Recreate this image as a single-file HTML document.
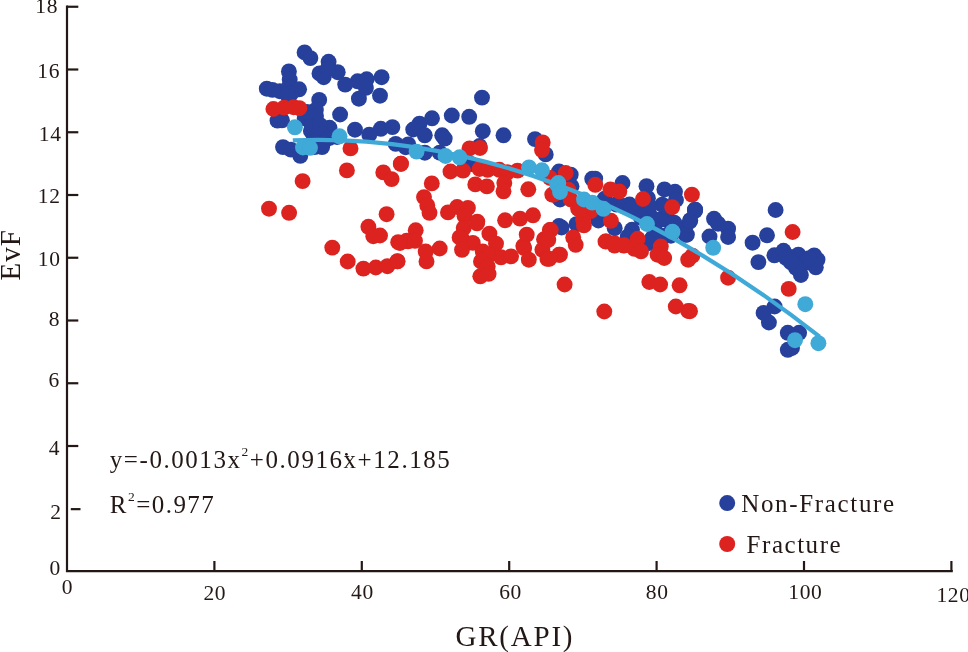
<!DOCTYPE html>
<html><head><meta charset="utf-8"><title>EvF vs GR(API)</title>
<style>
html,body{margin:0;padding:0;background:#fff;}
body{width:968px;height:652px;overflow:hidden;}
svg{display:block;}
text{font-family:"Liberation Serif","Times New Roman",serif;fill:#231815;}
</style></head><body>
<svg width="968" height="652" viewBox="0 0 968 652">
<rect width="968" height="652" fill="#fff"/>
<g stroke="#231815" stroke-width="2.2" fill="none" stroke-linecap="butt">
<path d="M67,5.6 V571.2 H952.8"/>
<path d="M67,6.75 H78.3"/>
<path d="M67,69.5 H78.3"/>
<path d="M67,132.25 H78.3"/>
<path d="M67,195.0 H78.3"/>
<path d="M67,257.75 H78.3"/>
<path d="M67,320.5 H78.3"/>
<path d="M67,383.25 H78.3"/>
<path d="M67,446.0 H78.3"/>
<path d="M70.8,509.15 H80.5"/>
<path d="M214.4,561 V571"/>
<path d="M361.8,561 V571"/>
<path d="M509.20000000000005,561 V571"/>
<path d="M656.6,561 V571"/>
<path d="M804.0,561 V571"/>
<path d="M951.4000000000001,561 V571"/>
</g>
<text x="58" y="13" font-size="21.5" text-anchor="end" letter-spacing="0.6">18</text>
<text x="60" y="77.5" font-size="21.5" text-anchor="end" letter-spacing="0.6">16</text>
<text x="61.5" y="140.5" font-size="21.5" text-anchor="end" letter-spacing="0.6">14</text>
<text x="60.5" y="203" font-size="21.5" text-anchor="end" letter-spacing="0.6">12</text>
<text x="60.5" y="265.5" font-size="21.5" text-anchor="end" letter-spacing="0.6">10</text>
<text x="60" y="326.2" font-size="21.5" text-anchor="end" letter-spacing="0.6">8</text>
<text x="59.8" y="387" font-size="21.5" text-anchor="end" letter-spacing="0.6">6</text>
<text x="60" y="455" font-size="21.5" text-anchor="end" letter-spacing="0.6">4</text>
<text x="61.6" y="518.5" font-size="21.5" text-anchor="end" letter-spacing="0.6">2</text>
<text x="60.8" y="575.2" font-size="21.5" text-anchor="end" letter-spacing="0.6">0</text>
<text x="67.5" y="594" font-size="21.5" text-anchor="middle" letter-spacing="0.6">0</text>
<text x="214.8" y="599.7" font-size="21.5" text-anchor="middle" letter-spacing="0.6">20</text>
<text x="362.4" y="599" font-size="21.5" text-anchor="middle" letter-spacing="0.6">40</text>
<text x="510.5" y="599" font-size="21.5" text-anchor="middle" letter-spacing="0.6">60</text>
<text x="657.2" y="599" font-size="21.5" text-anchor="middle" letter-spacing="0.6">80</text>
<text x="805.4" y="599" font-size="21.5" text-anchor="middle" letter-spacing="0.6">100</text>
<text x="953.5" y="601.5" font-size="21.5" text-anchor="middle" letter-spacing="0.6">120</text>
<text x="455.5" y="645.5" font-size="29" textLength="117" lengthAdjust="spacing">GR(API)</text>
<text transform="translate(20,280.5) rotate(-90)" font-size="29" textLength="50.5" lengthAdjust="spacing">EvF</text>
<g fill="#26409b"><circle cx="304.6" cy="52.4" r="7.95"/>
<circle cx="310.4" cy="58.1" r="7.95"/>
<circle cx="328.6" cy="61.8" r="7.95"/>
<circle cx="288.9" cy="71.4" r="7.95"/>
<circle cx="319.5" cy="73.4" r="7.95"/>
<circle cx="323.7" cy="77.2" r="7.95"/>
<circle cx="337.7" cy="72.2" r="7.95"/>
<circle cx="345.2" cy="84.6" r="7.95"/>
<circle cx="357.6" cy="81.3" r="7.95"/>
<circle cx="366.7" cy="79.3" r="7.95"/>
<circle cx="381.6" cy="77.2" r="7.95"/>
<circle cx="365.9" cy="87.9" r="7.95"/>
<circle cx="358.9" cy="98.7" r="7.95"/>
<circle cx="380" cy="95.7" r="7.95"/>
<circle cx="289.7" cy="79.7" r="7.95"/>
<circle cx="266.8" cy="88.7" r="7.95"/>
<circle cx="272.4" cy="89.9" r="7.95"/>
<circle cx="279.8" cy="91.2" r="7.95"/>
<circle cx="288.5" cy="87.5" r="7.95"/>
<circle cx="299.1" cy="89.3" r="7.95"/>
<circle cx="291" cy="93.7" r="7.95"/>
<circle cx="319.2" cy="99.9" r="7.95"/>
<circle cx="315.9" cy="109.8" r="7.95"/>
<circle cx="282" cy="120.4" r="7.95"/>
<circle cx="277.5" cy="120.6" r="7.95"/>
<circle cx="340.1" cy="114.5" r="7.95"/>
<circle cx="329.5" cy="127.8" r="7.95"/>
<circle cx="310.9" cy="122.2" r="7.95"/>
<circle cx="310.9" cy="131" r="7.95"/>
<circle cx="317.1" cy="134.7" r="7.95"/>
<circle cx="304.7" cy="118.5" r="7.95"/>
<circle cx="322.1" cy="147.1" r="7.95"/>
<circle cx="314.6" cy="147.1" r="7.95"/>
<circle cx="283" cy="147.1" r="7.95"/>
<circle cx="291" cy="149.6" r="7.95"/>
<circle cx="300.3" cy="155.8" r="7.95"/>
<circle cx="355" cy="129.7" r="7.95"/>
<circle cx="369.3" cy="134.7" r="7.95"/>
<circle cx="337" cy="137" r="7.95"/>
<circle cx="380.8" cy="128.8" r="7.95"/>
<circle cx="392.4" cy="127.1" r="7.95"/>
<circle cx="395.7" cy="143.9" r="7.95"/>
<circle cx="405.6" cy="147.2" r="7.95"/>
<circle cx="319.5" cy="141" r="7.95"/>
<circle cx="482" cy="97.6" r="7.95"/>
<circle cx="432" cy="118.3" r="7.95"/>
<circle cx="451.8" cy="115.5" r="7.95"/>
<circle cx="469.2" cy="116.8" r="7.95"/>
<circle cx="419.5" cy="123.7" r="7.95"/>
<circle cx="413.2" cy="129.5" r="7.95"/>
<circle cx="424.8" cy="135.3" r="7.95"/>
<circle cx="442.2" cy="135.3" r="7.95"/>
<circle cx="444.7" cy="138.6" r="7.95"/>
<circle cx="482.8" cy="131.2" r="7.95"/>
<circle cx="503.5" cy="135.3" r="7.95"/>
<circle cx="535" cy="139.1" r="7.95"/>
<circle cx="545.7" cy="154.4" r="7.95"/>
<circle cx="408.3" cy="144.4" r="7.95"/>
<circle cx="424.8" cy="152.7" r="7.95"/>
<circle cx="479.5" cy="146" r="7.95"/>
<circle cx="439.7" cy="152.7" r="7.95"/>
<circle cx="471" cy="164" r="7.95"/>
<circle cx="559" cy="226" r="7.95"/>
<circle cx="559" cy="171.5" r="7.95"/>
<circle cx="570.7" cy="174.7" r="7.95"/>
<circle cx="592.2" cy="178.8" r="7.95"/>
<circle cx="595.2" cy="178.6" r="7.95"/>
<circle cx="622.5" cy="183" r="7.95"/>
<circle cx="646.5" cy="186.2" r="7.95"/>
<circle cx="664.4" cy="189.4" r="7.95"/>
<circle cx="675" cy="191.8" r="7.95"/>
<circle cx="695.1" cy="209.6" r="7.95"/>
<circle cx="690.2" cy="220.2" r="7.95"/>
<circle cx="685" cy="228" r="7.95"/>
<circle cx="686.9" cy="234.6" r="7.95"/>
<circle cx="647.9" cy="198.2" r="7.95"/>
<circle cx="629.5" cy="204.5" r="7.95"/>
<circle cx="642.7" cy="209.5" r="7.95"/>
<circle cx="662.3" cy="204.6" r="7.95"/>
<circle cx="666.5" cy="215" r="7.95"/>
<circle cx="668.3" cy="220.9" r="7.95"/>
<circle cx="656" cy="222.7" r="7.95"/>
<circle cx="659.6" cy="219.7" r="7.95"/>
<circle cx="616.2" cy="204.5" r="7.95"/>
<circle cx="604.7" cy="198.6" r="7.95"/>
<circle cx="632" cy="229.8" r="7.95"/>
<circle cx="614.7" cy="228.2" r="7.95"/>
<circle cx="598.4" cy="220.5" r="7.95"/>
<circle cx="576.5" cy="224.2" r="7.95"/>
<circle cx="561.6" cy="227.5" r="7.95"/>
<circle cx="571.5" cy="186.3" r="7.95"/>
<circle cx="560" cy="199.5" r="7.95"/>
<circle cx="656.5" cy="233" r="7.95"/>
<circle cx="652.1" cy="238.3" r="7.95"/>
<circle cx="664.5" cy="235.8" r="7.95"/>
<circle cx="623.5" cy="206" r="7.95"/>
<circle cx="627.8" cy="236.5" r="7.95"/>
<circle cx="652.6" cy="238" r="7.95"/>
<circle cx="649.3" cy="243" r="7.95"/>
<circle cx="670.9" cy="235.7" r="7.95"/>
<circle cx="685.8" cy="234.8" r="7.95"/>
<circle cx="695" cy="210.8" r="7.95"/>
<circle cx="775.6" cy="210" r="7.95"/>
<circle cx="695" cy="209.7" r="7.95"/>
<circle cx="690" cy="221.3" r="7.95"/>
<circle cx="714" cy="218.8" r="7.95"/>
<circle cx="718.1" cy="223.7" r="7.95"/>
<circle cx="728.1" cy="228.7" r="7.95"/>
<circle cx="728.1" cy="237" r="7.95"/>
<circle cx="709.5" cy="236.5" r="7.95"/>
<circle cx="752.6" cy="242.7" r="7.95"/>
<circle cx="767" cy="235.3" r="7.95"/>
<circle cx="758.4" cy="262.1" r="7.95"/>
<circle cx="774.4" cy="255.3" r="7.95"/>
<circle cx="783.5" cy="250.8" r="7.95"/>
<circle cx="798.4" cy="254.6" r="7.95"/>
<circle cx="814.2" cy="255.4" r="7.95"/>
<circle cx="817.5" cy="259.6" r="7.95"/>
<circle cx="794.3" cy="262.9" r="7.95"/>
<circle cx="805.9" cy="262.9" r="7.95"/>
<circle cx="815.8" cy="267.3" r="7.95"/>
<circle cx="800.9" cy="275" r="7.95"/>
<circle cx="796" cy="268" r="7.95"/>
<circle cx="774.6" cy="306.5" r="7.95"/>
<circle cx="763.6" cy="312.9" r="7.95"/>
<circle cx="768.9" cy="322.5" r="7.95"/>
<circle cx="787.8" cy="332.8" r="7.95"/>
<circle cx="799.1" cy="332.8" r="7.95"/>
<circle cx="787.8" cy="349.8" r="7.95"/>
<circle cx="792" cy="348" r="7.95"/>
<circle cx="327.5" cy="69" r="7.95"/>
<circle cx="316" cy="116" r="7.95"/>
<circle cx="312" cy="126" r="7.95"/>
<circle cx="320" cy="125" r="7.95"/>
<circle cx="321" cy="133" r="7.95"/>
<circle cx="313" cy="141" r="7.95"/>
<circle cx="323" cy="143" r="7.95"/>
<circle cx="329.5" cy="138" r="7.95"/>
<circle cx="307" cy="112" r="7.95"/>
<circle cx="288" cy="96" r="7.95"/>
<circle cx="639.7" cy="211" r="7.95"/>
<circle cx="652" cy="217.5" r="7.95"/>
<circle cx="649.6" cy="206.5" r="7.95"/>
<circle cx="665" cy="207" r="7.95"/>
<circle cx="631" cy="208.5" r="7.95"/>
<circle cx="641" cy="217.7" r="7.95"/>
<circle cx="674.2" cy="222.7" r="7.95"/>
<circle cx="676" cy="200" r="7.95"/>
<circle cx="789.3" cy="256.6" r="7.95"/>
<circle cx="809.2" cy="258.2" r="7.95"/>
<circle cx="786" cy="258" r="7.95"/>
<circle cx="791" cy="262.5" r="7.95"/></g>
<g fill="#dc231f"><circle cx="273.4" cy="109" r="7.95"/>
<circle cx="284.1" cy="107.6" r="7.95"/>
<circle cx="293.7" cy="107.2" r="7.95"/>
<circle cx="299.4" cy="108.2" r="7.95"/>
<circle cx="350.5" cy="148.4" r="7.95"/>
<circle cx="346.9" cy="170.4" r="7.95"/>
<circle cx="302.6" cy="181.1" r="7.95"/>
<circle cx="383.3" cy="172.4" r="7.95"/>
<circle cx="391.6" cy="179.1" r="7.95"/>
<circle cx="401" cy="163.7" r="7.95"/>
<circle cx="269" cy="208.7" r="7.95"/>
<circle cx="289.1" cy="212.8" r="7.95"/>
<circle cx="386.6" cy="214.2" r="7.95"/>
<circle cx="368.4" cy="226.8" r="7.95"/>
<circle cx="373.3" cy="236.2" r="7.95"/>
<circle cx="380" cy="235.5" r="7.95"/>
<circle cx="332.3" cy="247.6" r="7.95"/>
<circle cx="347.7" cy="261.5" r="7.95"/>
<circle cx="363.4" cy="268.6" r="7.95"/>
<circle cx="375.8" cy="267.5" r="7.95"/>
<circle cx="387.4" cy="266.2" r="7.95"/>
<circle cx="397.4" cy="261.2" r="7.95"/>
<circle cx="398.2" cy="242.2" r="7.95"/>
<circle cx="408.1" cy="241.3" r="7.95"/>
<circle cx="469.5" cy="148.4" r="7.95"/>
<circle cx="480" cy="148" r="7.95"/>
<circle cx="542.7" cy="142.4" r="7.95"/>
<circle cx="542" cy="150.1" r="7.95"/>
<circle cx="400.8" cy="163.8" r="7.95"/>
<circle cx="450.5" cy="171.5" r="7.95"/>
<circle cx="463" cy="170.6" r="7.95"/>
<circle cx="479.5" cy="169" r="7.95"/>
<circle cx="487.7" cy="169.8" r="7.95"/>
<circle cx="499.3" cy="169.8" r="7.95"/>
<circle cx="507.6" cy="172.3" r="7.95"/>
<circle cx="517.5" cy="170.6" r="7.95"/>
<circle cx="431.8" cy="183.4" r="7.95"/>
<circle cx="475.3" cy="184.4" r="7.95"/>
<circle cx="486.9" cy="186.4" r="7.95"/>
<circle cx="504.3" cy="183" r="7.95"/>
<circle cx="503.5" cy="191.3" r="7.95"/>
<circle cx="528.3" cy="189.3" r="7.95"/>
<circle cx="552.3" cy="194.6" r="7.95"/>
<circle cx="424" cy="197.1" r="7.95"/>
<circle cx="427.3" cy="205.4" r="7.95"/>
<circle cx="429.5" cy="212.8" r="7.95"/>
<circle cx="448" cy="212.4" r="7.95"/>
<circle cx="457.1" cy="207" r="7.95"/>
<circle cx="467.9" cy="207.9" r="7.95"/>
<circle cx="464.6" cy="216.2" r="7.95"/>
<circle cx="477.3" cy="221.6" r="7.95"/>
<circle cx="505.1" cy="220.3" r="7.95"/>
<circle cx="520" cy="218.6" r="7.95"/>
<circle cx="533" cy="215.3" r="7.95"/>
<circle cx="415.7" cy="230.3" r="7.95"/>
<circle cx="406.6" cy="240.8" r="7.95"/>
<circle cx="415" cy="240.8" r="7.95"/>
<circle cx="463.7" cy="228" r="7.95"/>
<circle cx="461.3" cy="237.7" r="7.95"/>
<circle cx="489.4" cy="233.7" r="7.95"/>
<circle cx="472.8" cy="242.9" r="7.95"/>
<circle cx="496" cy="243.7" r="7.95"/>
<circle cx="526.7" cy="234.6" r="7.95"/>
<circle cx="549.8" cy="230" r="7.95"/>
<circle cx="544" cy="239.3" r="7.95"/>
<circle cx="523.3" cy="246" r="7.95"/>
<circle cx="439.7" cy="248.5" r="7.95"/>
<circle cx="400" cy="243" r="7.95"/>
<circle cx="425.7" cy="251.5" r="7.95"/>
<circle cx="426.5" cy="261.4" r="7.95"/>
<circle cx="397.5" cy="261.4" r="7.95"/>
<circle cx="459.6" cy="237.4" r="7.95"/>
<circle cx="462" cy="249.8" r="7.95"/>
<circle cx="477" cy="223.3" r="7.95"/>
<circle cx="482.8" cy="251.5" r="7.95"/>
<circle cx="489.4" cy="254.8" r="7.95"/>
<circle cx="481" cy="261.4" r="7.95"/>
<circle cx="487.7" cy="266.4" r="7.95"/>
<circle cx="480.3" cy="276.3" r="7.95"/>
<circle cx="488.6" cy="273.8" r="7.95"/>
<circle cx="501" cy="257.3" r="7.95"/>
<circle cx="511" cy="256.4" r="7.95"/>
<circle cx="524.2" cy="248.1" r="7.95"/>
<circle cx="528.8" cy="259.7" r="7.95"/>
<circle cx="546.5" cy="240.7" r="7.95"/>
<circle cx="542.4" cy="249.8" r="7.95"/>
<circle cx="547.4" cy="258.9" r="7.95"/>
<circle cx="559" cy="254.8" r="7.95"/>
<circle cx="565.7" cy="173" r="7.95"/>
<circle cx="550" cy="178" r="7.95"/>
<circle cx="595.3" cy="184.8" r="7.95"/>
<circle cx="610.4" cy="189.4" r="7.95"/>
<circle cx="619.3" cy="191.5" r="7.95"/>
<circle cx="643" cy="199" r="7.95"/>
<circle cx="672.2" cy="207.1" r="7.95"/>
<circle cx="691.9" cy="194.6" r="7.95"/>
<circle cx="568.2" cy="189.6" r="7.95"/>
<circle cx="553.3" cy="194.6" r="7.95"/>
<circle cx="570.7" cy="199.5" r="7.95"/>
<circle cx="578.1" cy="208.6" r="7.95"/>
<circle cx="590.6" cy="211.1" r="7.95"/>
<circle cx="583.1" cy="219.4" r="7.95"/>
<circle cx="583.9" cy="225.4" r="7.95"/>
<circle cx="610.9" cy="220.8" r="7.95"/>
<circle cx="550.8" cy="230" r="7.95"/>
<circle cx="573.2" cy="237.4" r="7.95"/>
<circle cx="606.2" cy="241.4" r="7.95"/>
<circle cx="614.7" cy="243.4" r="7.95"/>
<circle cx="624.3" cy="245.3" r="7.95"/>
<circle cx="637.7" cy="238.8" r="7.95"/>
<circle cx="660.8" cy="246.5" r="7.95"/>
<circle cx="548.3" cy="239.8" r="7.95"/>
<circle cx="575.7" cy="244.8" r="7.95"/>
<circle cx="560" cy="254.7" r="7.95"/>
<circle cx="549.2" cy="258.8" r="7.95"/>
<circle cx="605.5" cy="241.5" r="7.95"/>
<circle cx="614.6" cy="245.6" r="7.95"/>
<circle cx="623.7" cy="245.6" r="7.95"/>
<circle cx="634.4" cy="248.9" r="7.95"/>
<circle cx="641" cy="251.4" r="7.95"/>
<circle cx="657.6" cy="254.7" r="7.95"/>
<circle cx="664.2" cy="258" r="7.95"/>
<circle cx="692.4" cy="255.6" r="7.95"/>
<circle cx="688.2" cy="259.7" r="7.95"/>
<circle cx="564.6" cy="284.5" r="7.95"/>
<circle cx="649.3" cy="282" r="7.95"/>
<circle cx="660.1" cy="284.5" r="7.95"/>
<circle cx="679.6" cy="285.3" r="7.95"/>
<circle cx="604.3" cy="311.5" r="7.95"/>
<circle cx="675.8" cy="306.5" r="7.95"/>
<circle cx="688.2" cy="311" r="7.95"/>
<circle cx="580" cy="210" r="7.95"/>
<circle cx="792.6" cy="232" r="7.95"/>
<circle cx="728.1" cy="277.7" r="7.95"/>
<circle cx="788.7" cy="288.9" r="7.95"/>
<circle cx="690" cy="311.2" r="7.95"/></g>
<path d="M292.8,140.37 Q556.20,129.88 819.6,336.68" fill="none" stroke="#3fa9d8" stroke-width="4.2" stroke-linejoin="round"/>
<g fill="#3fa9d8"><circle cx="294.9" cy="127.3" r="7.95"/>
<circle cx="339.5" cy="136.3" r="7.95"/>
<circle cx="303" cy="147.5" r="7.95"/>
<circle cx="310" cy="147.8" r="7.95"/>
<circle cx="416.6" cy="151.6" r="7.95"/>
<circle cx="445.5" cy="156" r="7.95"/>
<circle cx="459.6" cy="157.3" r="7.95"/>
<circle cx="529" cy="167.4" r="7.95"/>
<circle cx="542" cy="170.3" r="7.95"/>
<circle cx="557.3" cy="184.7" r="7.95"/>
<circle cx="558.3" cy="183" r="7.95"/>
<circle cx="560" cy="192" r="7.95"/>
<circle cx="584" cy="199.5" r="7.95"/>
<circle cx="592.2" cy="202.6" r="7.95"/>
<circle cx="603.4" cy="208.8" r="7.95"/>
<circle cx="647" cy="224" r="7.95"/>
<circle cx="672.5" cy="231.8" r="7.95"/>
<circle cx="713.2" cy="247.8" r="7.95"/>
<circle cx="805.3" cy="304.2" r="7.95"/>
<circle cx="795" cy="340.2" r="7.95"/>
<circle cx="818.4" cy="343.2" r="7.95"/></g>
<circle cx="727.2" cy="503.1" r="8" fill="#26409b"/>
<circle cx="727.2" cy="544" r="8" fill="#dc231f"/>
<text x="741.2" y="511.8" font-size="25" textLength="153" lengthAdjust="spacing">Non-Fracture</text>
<text x="746.6" y="552.5" font-size="25" textLength="94" lengthAdjust="spacing">Fracture</text>
<text x="109.8" y="468" font-size="25" textLength="340" lengthAdjust="spacing">y=-0.0013x<tspan font-size="13.5" dy="-12.5">2</tspan><tspan dy="12.5">+0.0916x+12.185</tspan></text>
<circle cx="346.4" cy="454.3" r="1.4" fill="#231815"/>
<text x="109.8" y="513.2" font-size="25" textLength="104" lengthAdjust="spacing">R<tspan font-size="13.5" dy="-12.5">2</tspan><tspan dy="12.5">=0.977</tspan></text>
</svg></body></html>
